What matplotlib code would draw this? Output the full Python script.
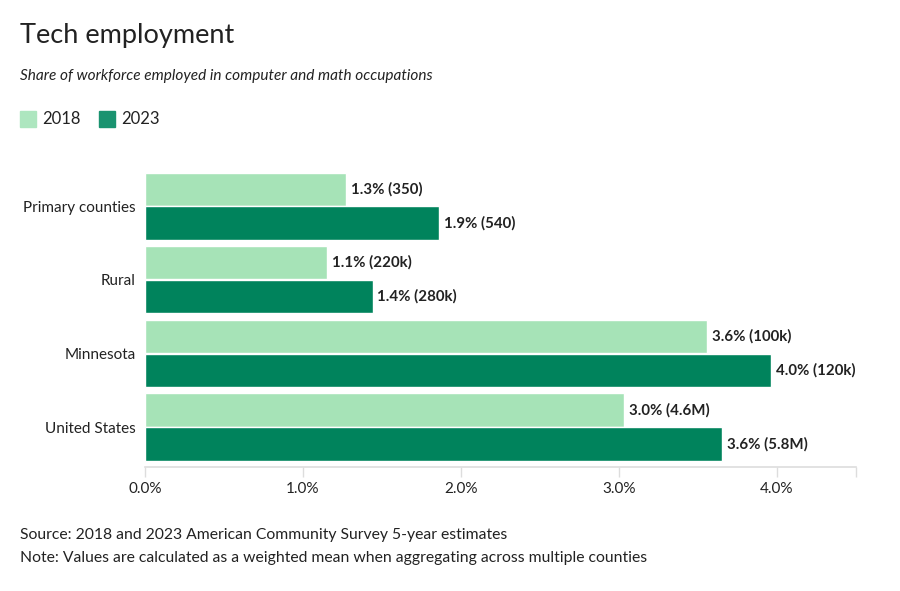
import matplotlib.pyplot as plt
from matplotlib.patches import Rectangle
import numpy as np

plt.rcParams['font.family'] = ['Lato', 'DejaVu Sans']

categories = ['Primary counties', 'Rural', 'Minnesota', 'United States']
share_2018 = [1.27, 1.15, 3.56, 3.03]
share_2023 = [1.86, 1.44, 3.96, 3.65]
labels_2018 = ['1.3% (350)', '1.1% (220k)', '3.6% (100k)', '3.0% (4.6M)']
labels_2023 = ['1.9% (540)', '1.4% (280k)', '4.0% (120k)', '3.6% (5.8M)']
x_ticks = [0, 1, 2, 3, 4]
x_tick_labels = ['0.0%', '1.0%', '2.0%', '3.0%', '4.0%']

light = '#a6e3b7'
dark = '#00835c'
text_color = '#222222'

W, H = 900, 591
fig = plt.figure(figsize=(9, 5.91), dpi=100)
ax = fig.add_axes([145 / W, 1 - 467 / H, (856 - 145) / W, (467 - 169.2) / H])

y = np.arange(len(categories))
h = 0.45
off = 0.23
ax.barh(y - off, share_2018, height=h, color=light, edgecolor='white', linewidth=1)
ax.barh(y + off, share_2023, height=h, color=dark, edgecolor='white', linewidth=1)

for i in range(len(categories)):
    ax.annotate(labels_2018[i], (share_2018[i], y[i] - off), xytext=(3.5, 0),
                textcoords='offset points', va='center', ha='left',
                fontsize=10.8, fontweight='bold', color=text_color)
    ax.annotate(labels_2023[i], (share_2023[i], y[i] + off), xytext=(3.5, 0),
                textcoords='offset points', va='center', ha='left',
                fontsize=10.8, fontweight='bold', color=text_color)

ax.set_xlim(0, 4.5)
ax.set_ylim(3.543, -0.5)
ax.set_yticks(y)
ax.set_yticklabels(categories, fontsize=11, color=text_color)
ax.tick_params(axis='y', length=0, pad=6.5)
ax.set_xticks(x_ticks + [4.5])
ax.set_xticklabels(x_tick_labels + [''], fontsize=11, color=text_color)
ax.tick_params(axis='x', length=7, width=1, color='#dddddd', pad=3.5)

for s in ['top', 'right', 'left']:
    ax.spines[s].set_visible(False)
ax.spines['bottom'].set_color('#dddddd')
ax.spines['bottom'].set_linewidth(1.2)

# titles
fig.text(20 / W, 1 - 36 / H, 'Tech employment', fontsize=19.5, color=text_color, va='center')
fig.text(20 / W, 1 - 76 / H, 'Share of workforce employed in computer and math occupations',
         fontsize=11.1, style='italic', color=text_color, va='center')

# legend
fig.patches.append(Rectangle((20 / W, 1 - 127 / H), 16 / W, 16 / H, color='#ade6bf',
                             transform=fig.transFigure, figure=fig))
fig.text(42 / W, 1 - 119 / H, '2018', fontsize=12, color=text_color, va='center')
fig.patches.append(Rectangle((99 / W, 1 - 127 / H), 16 / W, 16 / H, color='#1a9370',
                             transform=fig.transFigure, figure=fig))
fig.text(121 / W, 1 - 119 / H, '2023', fontsize=12, color=text_color, va='center')

# footer
fig.text(20 / W, 1 - 535 / H, 'Source: 2018 and 2023 American Community Survey 5-year estimates',
         fontsize=11.3, color=text_color, va='center')
fig.text(20 / W, 1 - 558 / H, 'Note: Values are calculated as a weighted mean when aggregating across multiple counties',
         fontsize=11.3, color=text_color, va='center')

fig.savefig('out.png', dpi=100)
